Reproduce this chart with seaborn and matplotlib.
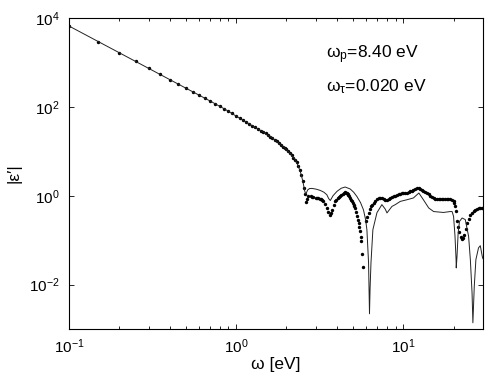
import numpy as np
import pandas as pd
import matplotlib
matplotlib.use("Agg")
import matplotlib.pyplot as plt
from matplotlib.ticker import LogLocator, NullFormatter, NullLocator
import seaborn as sns

# ---- data ----
# thin line: |eps'| (model)
line_w = [0.10, 0.20, 0.30, 0.50, 0.70, 0.86, 1.00, 1.13, 1.30, 1.49, 1.70, 1.96,
          2.10, 2.26, 2.35, 2.42, 2.48, 2.53, 2.57, 2.60, 2.63, 2.68, 2.75, 2.84,
          3.00, 3.18, 3.35, 3.49, 3.58, 3.66, 3.80, 4.01, 4.25, 4.49, 4.81, 5.05,
          5.28, 5.55, 5.78, 5.95, 6.06, 6.20, 6.24, 6.28, 6.33, 6.41, 6.58, 6.96,
          7.45, 7.80, 7.99, 8.56, 8.96, 9.60, 10.5, 11.5, 12.4, 13.2, 14.2, 15.2,
          17.4, 19.1, 19.6, 20.0, 20.4, 20.7, 20.75, 20.97, 21.3, 21.7, 22.5, 23.5,
          24.6, 25.2, 25.8, 26.1, 26.6, 27.2, 28.2, 28.9, 29.7, 30.0]
line_v = [6600, 1650, 733, 264, 135, 88, 62, 47, 34.5, 25.5, 18.2, 11.8,
          9.0, 6.4, 4.7, 3.5, 2.5, 1.77, 1.3, 1.12, 1.15, 1.35, 1.45, 1.46,
          1.41, 1.32, 1.2, 1.05, 0.86, 0.78, 1.0, 1.25, 1.47, 1.57, 1.42, 1.2,
          0.96, 0.70, 0.48, 0.29, 0.172, 0.031, 0.008, 0.0022, 0.008, 0.031, 0.172, 0.415,
          0.63, 0.50, 0.41, 0.575, 0.63, 0.745, 0.81, 0.89, 1.15, 0.81, 0.53, 0.44,
          0.42, 0.44, 0.44, 0.343, 0.122, 0.0365, 0.0237, 0.043, 0.145, 0.264, 0.315, 0.29,
          0.122, 0.0365, 0.0065, 0.00138, 0.0091, 0.0365, 0.067, 0.075, 0.043, 0.038]

# dots: |eps'| (data)
dot_w = [0.10, 0.15, 0.20, 0.25, 0.30, 0.35, 0.40, 0.45, 0.50, 0.55, 0.60, 0.65,
         0.70, 0.75, 0.80, 0.85, 0.90, 0.95, 1.00, 1.05, 1.10, 1.15, 1.20, 1.25,
         1.30, 1.35, 1.40, 1.45, 1.50, 1.55, 1.60, 1.65, 1.70, 1.75, 1.80, 1.85,
         1.90, 1.95, 2.00, 2.05, 2.10, 2.15, 2.20, 2.25, 2.30, 2.35, 2.40, 2.45,
         2.50, 2.55, 2.58, 2.61, 2.64, 2.71, 2.79, 2.85, 2.90, 3.00, 3.05, 3.11,
         3.16, 3.22, 3.27, 3.33, 3.41, 3.49, 3.56, 3.62, 3.68, 3.74, 3.83, 3.91,
         3.98, 4.05, 4.12, 4.19, 4.27, 4.34, 4.42, 4.49, 4.54, 4.60, 4.65, 4.70,
         4.75, 4.81, 4.87, 4.93, 4.98, 5.04, 5.10, 5.16, 5.22, 5.28, 5.34, 5.40,
         5.46, 5.53, 5.58, 5.61, 5.66, 5.74, 6.00, 6.10, 6.20, 6.30, 6.41, 6.52,
         6.64, 6.80, 6.95, 7.11, 7.28, 7.45, 7.62, 7.80, 7.99, 8.17, 8.36, 8.55,
         8.75, 8.95, 9.17, 9.38, 9.60, 9.80, 10.0, 10.25, 10.5, 10.75, 11.0, 11.25,
         11.5, 11.8, 12.1, 12.35, 12.6, 12.9, 13.2, 13.55, 13.9, 14.2, 14.5, 14.85,
         15.2, 15.55, 15.9, 16.3, 16.7, 17.05, 17.4, 17.8, 18.2, 18.65, 19.1, 19.55,
         20.0, 20.25, 20.5, 20.8, 21.1, 21.4, 21.7, 22.1, 22.5, 22.9, 23.2, 23.6,
         24.1, 24.6, 25.2, 25.8, 26.4, 27.0, 27.6, 28.2, 28.9, 29.5, 30.0]
dot_v = [6600, 2930, 1650, 1056, 733, 539, 412, 326, 264, 218, 183, 156,
         135, 117, 103, 91, 81, 73, 62, 56, 50, 45.5, 41, 37.5,
         34.5, 31.5, 29, 27, 25.2, 23.3, 21.5, 19.8, 18.2, 16.7, 15.3, 14.0,
         12.8, 11.9, 11.0, 10.0, 9.0, 8.1, 7.2, 6.5, 5.6, 4.7, 3.8, 2.9,
         2.2, 1.5, 1.1, 0.72, 0.86, 1.0, 0.97, 0.95, 0.925, 0.90, 0.89, 0.88,
         0.86, 0.835, 0.80, 0.745, 0.644, 0.53, 0.437, 0.374, 0.415, 0.485, 0.61, 0.745,
         0.82, 0.88, 0.93, 0.965, 1.03, 1.08, 1.14, 1.19, 1.17, 1.14, 1.10, 1.05,
         0.98, 0.90, 0.82, 0.745, 0.69, 0.63, 0.58, 0.53, 0.43, 0.343, 0.29, 0.244,
         0.20, 0.158, 0.12, 0.098, 0.050, 0.025, 0.264, 0.33, 0.41, 0.49, 0.575, 0.63,
         0.685, 0.745, 0.83, 0.88, 0.89, 0.87, 0.83, 0.81, 0.79, 0.83, 0.88, 0.93,
         0.965, 1.0, 1.03, 1.07, 1.11, 1.13, 1.14, 1.14, 1.14, 1.2, 1.26, 1.3,
         1.33, 1.4, 1.46, 1.46, 1.44, 1.36, 1.26, 1.2, 1.14, 1.07, 1.0, 0.94,
         0.89, 0.86, 0.84, 0.84, 0.84, 0.84, 0.84, 0.84, 0.84, 0.84, 0.83, 0.80,
         0.745, 0.67, 0.60, 0.46, 0.264, 0.20, 0.151, 0.12, 0.105, 0.114, 0.133, 0.18,
         0.244, 0.30, 0.374, 0.41, 0.45, 0.48, 0.51, 0.52, 0.53, 0.53, 0.52]

x_ticks = [0.1, 1, 10]
y_ticks = [1e-2, 1, 1e2, 1e4]
ann_p = r"$\mathrm{\omega_p}$=8.40 eV"
ann_t = r"$\mathrm{\omega_\tau}$=0.020 eV"

# ---- style ----
sns.set_style("ticks")
plt.rcParams["font.family"] = ["Liberation Sans", "DejaVu Sans"]
plt.rcParams["mathtext.fontset"] = "custom"
plt.rcParams["mathtext.rm"] = "Liberation Sans"
plt.rcParams["mathtext.it"] = "Liberation Sans"
plt.rcParams["mathtext.default"] = "regular"
plt.rcParams["text.color"] = "black"
plt.rcParams["axes.labelcolor"] = "black"
plt.rcParams["xtick.color"] = "black"
plt.rcParams["ytick.color"] = "black"

fig = plt.figure(figsize=(4.91, 3.81), dpi=100)
ax = fig.add_axes([69 / 491, 1 - 329 / 381, 414 / 491, 311 / 381])

df_line = pd.DataFrame({"w": line_w, "v": line_v})
df_dot = pd.DataFrame({"w": dot_w, "v": dot_v})

sns.lineplot(data=df_line, x="w", y="v", ax=ax, color="#222222", lw=0.7,
             estimator=None, sort=False)
sns.scatterplot(data=df_dot, x="w", y="v", ax=ax, color="black", s=6,
                marker="o", linewidth=0)

ax.set_xscale("log")
ax.set_yscale("log")
ax.set_xlim(0.1, 30)
ax.set_ylim(1e-3, 1e4)
ax.set_xticks(x_ticks)
ax.xaxis.set_minor_locator(LogLocator(base=10, subs=np.arange(2, 10)))
ax.xaxis.set_minor_formatter(NullFormatter())
ax.set_yticks(y_ticks)
ax.yaxis.set_minor_locator(NullLocator())

for s in ax.spines.values():
    s.set_visible(True)
    s.set_linewidth(0.8)
    s.set_color("black")

ax.tick_params(which="both", direction="in", top=True, right=True,
               labelsize=11, width=0.6, color="black", labelcolor="black")
ax.tick_params(which="major", length=3.5)
ax.tick_params(which="minor", length=2)
ax.tick_params(axis="y", pad=7)
ax.tick_params(axis="x", pad=6)

ax.set_xlabel("ω [eV]", fontsize=12.5, labelpad=1, color="black")
ax.set_ylabel("|ε′|", fontsize=12.5, labelpad=5, color="black")

ax.text(0.621, 0.870, ann_p, transform=ax.transAxes, fontsize=12.5,
        ha="left", va="baseline", color="black")
ax.text(0.621, 0.763, ann_t, transform=ax.transAxes, fontsize=12.5,
        ha="left", va="baseline", color="black")

fig.savefig("out.png", dpi=100)
